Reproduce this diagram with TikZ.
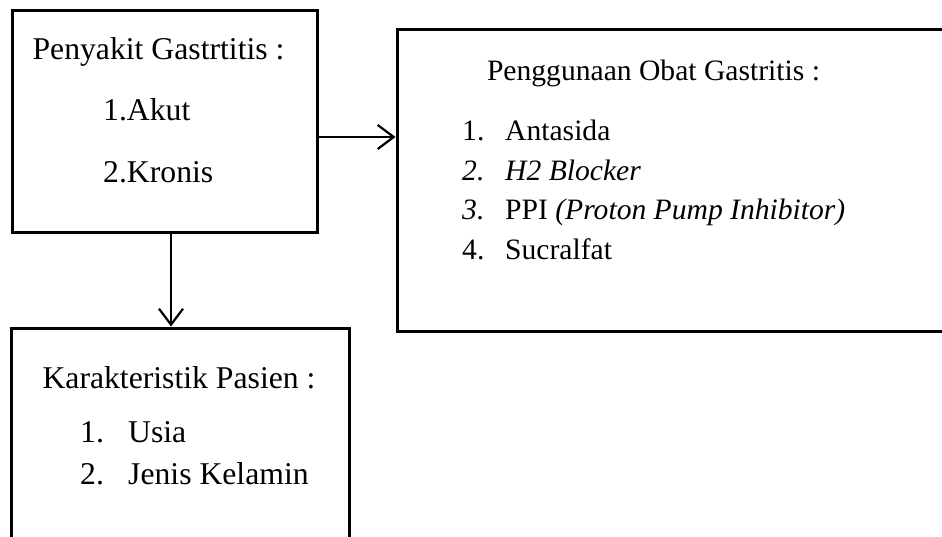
\documentclass[tikz,border=0pt]{standalone}
\usepackage{fontspec}
\setmainfont{Liberation Serif}
\usetikzlibrary{arrows,arrows.meta,positioning}

\begin{document}
\begin{tikzpicture}[x=1pt,y=-1pt,
  box/.style={draw,rectangle,line width=3pt,inner sep=0pt},
  judul/.style={anchor=base,inner sep=0pt},
  item/.style={anchor=base west,inner sep=0pt},
  besar/.style={font=\fontsize{31.7}{38}\selectfont},
  kecil/.style={font=\fontsize{29.6}{36}\selectfont},
  panah/.style={-{Straight Barb[length=16pt,width=24pt]},line width=2.2pt}]

  \useasboundingbox (0,0) rectangle (942,536);
  \clip (0,0) rectangle (942,536);

  % kotak
  \node[box,minimum width=305pt,minimum height=222pt] (penyakit) at (164.5,121) {};
  \node[box,minimum width=563pt,minimum height=302pt] (obat)     at (678.5,180) {};
  \node[box,minimum width=338pt,minimum height=240pt] (pasien)   at (180,448)   {};

  % penyakit gastritis
  \node[judul,besar] (judulA) at (158.5,59) {Penyakit Gastrtitis :};
  \node[item,besar]  (akut)   at (103,120)  {1.Akut};
  \node[item,besar]  (kronis) at (103,182)  {2.Kronis};

  % penggunaan obat
  \node[judul,kecil] (judulB) at (653.5,80) {Penggunaan Obat Gastritis :};
  \node[item,kecil]  (n1) at (462,140) {1.};
  \node[item,kecil]  (n2) at (462,180) {\itshape 2.};
  \node[item,kecil]  (n3) at (462,219) {\itshape 3.};
  \node[item,kecil]  (n4) at (462,259) {4.};
  \node[item,kecil]  (antasida)  at (505,140) {Antasida};
  \node[item,kecil]  (h2)        at (505,180) {\itshape H2 Blocker};
  \node[item,kecil]  (ppi)       at (505,219) {PPI \textit{(Proton Pump Inhibitor)}};
  \node[item,kecil]  (sucralfat) at (505,259) {Sucralfat};

  % karakteristik pasien
  \node[judul,besar] (judulC) at (179,388) {Karakteristik Pasien :};
  \node[item,besar]  (m1) at (80,442) {1.};
  \node[item,besar]  (m2) at (80,484) {2.};
  \node[item,besar]  (usia)  at (128,442) {Usia};
  \node[item,besar]  (jenis) at (128,484) {Jenis Kelamin};

  % panah
  \draw[panah] ([yshift=-16pt]penyakit.east) -- ([yshift=-16pt]penyakit.east -| obat.west);
  \draw[panah] ([xshift=6.5pt]penyakit.south) -- ([xshift=6.5pt]penyakit.south |- pasien.north);
\end{tikzpicture}
\end{document}
